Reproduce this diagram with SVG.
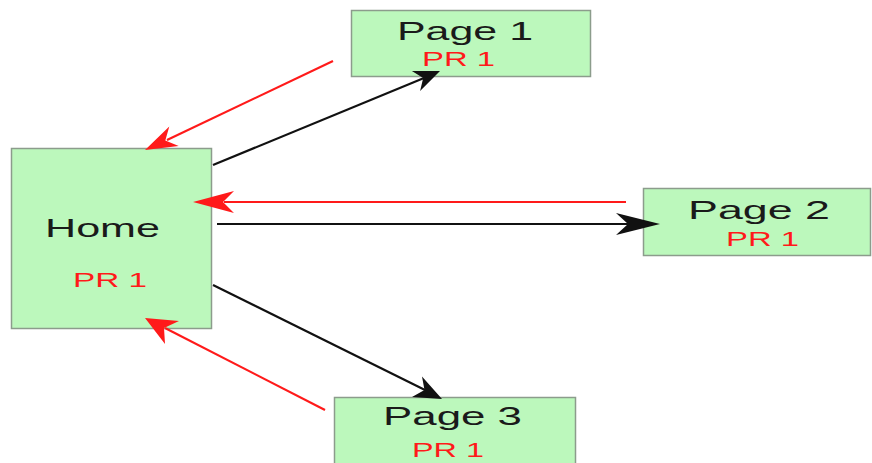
<svg xmlns="http://www.w3.org/2000/svg" width="872" height="463" viewBox="0 0 872 463">
<style>
.box{fill:#bcf8bc;stroke:#8c9c8c;stroke-width:1.5}
.t{font-family:"Liberation Sans",Arial,sans-serif;fill:#1a1a1a}
.pr{font-family:"Liberation Sans",Arial,sans-serif;fill:#ff1a1a}
.blk{stroke:#111;stroke-width:2.2;fill:none}
.red{stroke:#ff1a1a;stroke-width:2.2;fill:none}
.hb{fill:#111}
.hr{fill:#ff1a1a}
</style>
<g id="home">
<rect class="box" x="11.5" y="148.5" width="200" height="180"/>
<text class="t" x="45" y="237" font-size="25" textLength="115" lengthAdjust="spacingAndGlyphs">Home</text>
<text class="pr" x="73" y="287" font-size="21" textLength="74" lengthAdjust="spacingAndGlyphs">PR 1</text>
</g>
<g id="page1">
<rect class="box" x="351.5" y="10.5" width="239" height="66"/>
<text class="t" x="397" y="40" font-size="26" textLength="136" lengthAdjust="spacingAndGlyphs">Page 1</text>
<text class="pr" x="422" y="66" font-size="21" textLength="73" lengthAdjust="spacingAndGlyphs">PR 1</text>
</g>
<g id="page2">
<rect class="box" x="643.5" y="188.5" width="227" height="67"/>
<text class="t" x="688" y="219" font-size="25" textLength="142" lengthAdjust="spacingAndGlyphs">Page 2</text>
<text class="pr" x="726" y="246" font-size="20" textLength="73" lengthAdjust="spacingAndGlyphs">PR 1</text>
</g>
<g id="page3">
<rect class="box" x="334.5" y="397.5" width="241" height="70"/>
<text class="t" x="383" y="425" font-size="25" textLength="139" lengthAdjust="spacingAndGlyphs">Page 3</text>
<text class="pr" x="412" y="457" font-size="20" textLength="72" lengthAdjust="spacingAndGlyphs">PR 1</text>
</g>
<g id="connectors">
<line class="red" x1="333" y1="61" x2="167" y2="140"/>
<polygon class="hr" points="145,150 178.7,146 165.3,140.4 169.3,126.6"/>
<line class="blk" x1="213" y1="165" x2="424" y2="78"/>
<polygon class="hb" points="440,71 411.9,71 423.2,78 420.1,91"/>
<line class="red" x1="626" y1="202" x2="224" y2="202"/>
<polygon class="hr" points="193,202 234,191 223,202 234,213"/>
<line class="blk" x1="217" y1="224" x2="628" y2="224"/>
<polygon class="hb" points="660,224 616,213 628,224 616,235"/>
<line class="blk" x1="213" y1="285" x2="425" y2="390"/>
<polygon class="hb" points="442,399 422,376.5 424.5,390 412,397"/>
<line class="red" x1="325" y1="410" x2="165" y2="328"/>
<polygon class="hr" points="145,318 179,321 164,328 165,344"/>
</g>
</svg>
